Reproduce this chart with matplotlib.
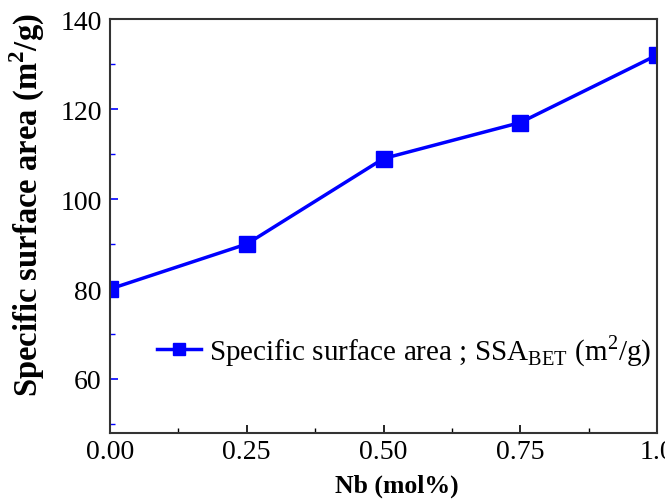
import matplotlib
matplotlib.use("Agg")
import matplotlib.pyplot as plt
from matplotlib.ticker import MultipleLocator

plt.rcParams['font.family'] = ['Liberation Serif', 'DejaVu Serif']
plt.rcParams['mathtext.fontset'] = 'custom'
plt.rcParams['mathtext.rm'] = 'Liberation Serif'
plt.rcParams['mathtext.bf'] = 'Liberation Serif:bold'

nb = [0.0, 0.25, 0.50, 0.75, 1.0]
ssa = [80, 90, 109, 117, 132]
xticks = [0.0, 0.25, 0.50, 0.75, 1.0]
xticklabels = ["0.00", "0.25", "0.50", "0.75", "1.0"]
yticks = [60, 80, 100, 120, 140]

fig = plt.figure(figsize=(6.65, 5.02), dpi=100)
ax = fig.add_axes([0.1654, 0.1355, 0.8226, 0.8245])

ax.plot(nb, ssa, color='#0000ff', lw=2.5, marker='s', markersize=12,
        label=r'Specific surface area ; SSA$_{\mathregular{BET}}$ (m$^{\mathregular{2}}$/g)')

ax.set_xlim(0, 1.0)
ax.set_ylim(48, 140)
ax.set_xticks(xticks)
ax.set_xticklabels(xticklabels)
ax.set_yticks(yticks)
ax.xaxis.set_minor_locator(MultipleLocator(0.125))
ax.yaxis.set_minor_locator(MultipleLocator(10))
ax.tick_params(axis='both', which='both', direction='in', labelsize=20)
ax.tick_params(axis='both', which='major', length=6, width=1.2)
ax.tick_params(axis='both', which='minor', length=3.5, width=1.0)
ax.tick_params(axis='y', which='both', color='#0000ff', pad=6)
ax.tick_params(axis='x', pad=4)
for s in ax.spines.values():
    s.set_linewidth(1.5)
    s.set_color('#333333')

ax.set_xlabel('Nb (mol%)', fontsize=18.5, fontweight='bold')
ax.xaxis.set_label_coords(0.525, -0.098)
ax.set_ylabel(r'Specific surface area (m$^{\mathbf{2}}$/g)', fontsize=23.5, fontweight='bold')
ax.yaxis.set_label_coords(-0.115, 0.553)

ax.legend(loc='center right', bbox_to_anchor=(0.99, 0.2), frameon=False,
          fontsize=21, handlelength=1.5, handletextpad=0.3, markerscale=0.75,
          borderaxespad=0.0, borderpad=0.0)

fig.savefig('out.png', dpi=100)
